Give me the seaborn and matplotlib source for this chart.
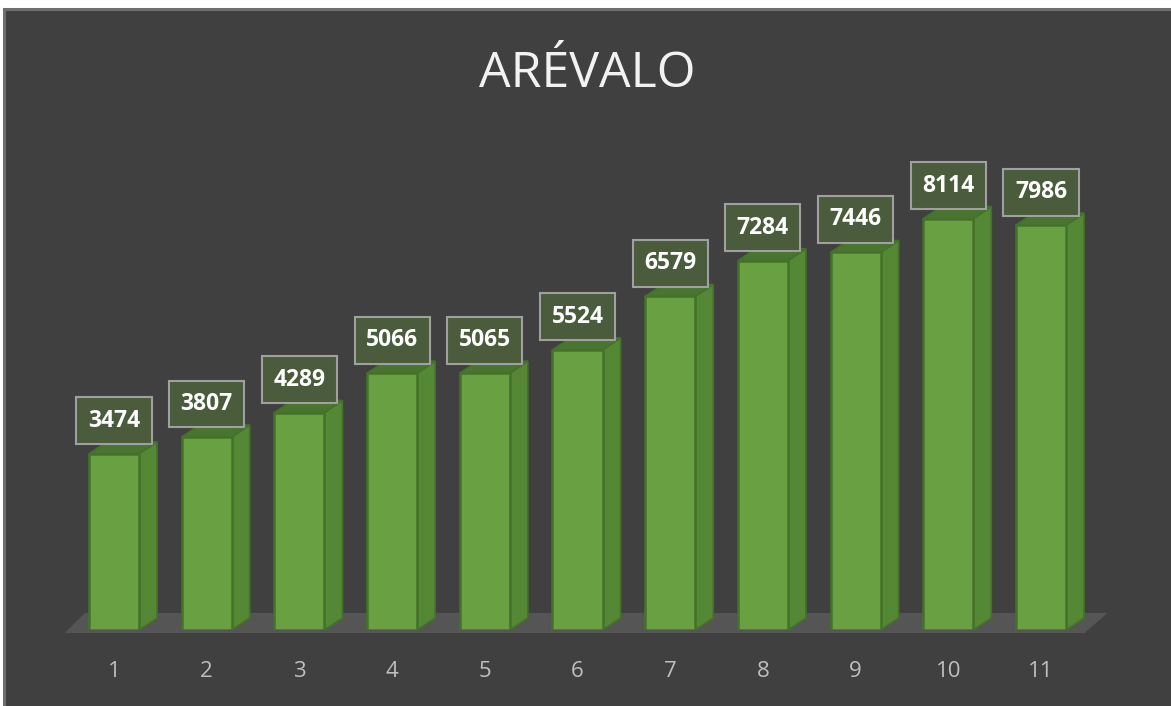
import matplotlib
matplotlib.use("Agg")
import matplotlib.pyplot as plt
from matplotlib.patches import Rectangle, Polygon
import seaborn as sns

# Datos del gráfico
periodos = ["1", "2", "3", "4", "5", "6", "7", "8", "9", "10", "11"]
valores = [3474, 3807, 4289, 5066, 5065, 5524, 6579, 7284, 7446, 8114, 7986]
titulo = "ARÉVALO"

# Colores
FONDO = "#404040"
BORDE = "#6e6e6e"
SUELO = "#555555"
VERDE = "#69a042"
VERDE_LADO = "#548834"
VERDE_TECHO = "#4a7530"
VERDE_BORDE = "#44722a"

sns.set_style("dark")
plt.rcParams["font.family"] = ["Open Sans", "DejaVu Sans"]

W, H = 1171, 706
fig = plt.figure(figsize=(W / 100, H / 100), dpi=100, facecolor="white")

# Panel oscuro con borde gris
fig.patches.append(Rectangle((4 / W, -0.05), 1.1, (H - 9) / H + 0.05,
                             transform=fig.transFigure, facecolor=FONDO,
                             edgecolor=BORDE, linewidth=2.2, zorder=-10))

# Ejes colocados a mano: suelo en y=630 px, barras separadas ~92.7 px
paso = 92.7
x0_px = 114
base_px = 630
escala = 0.0507  # px por unidad
ax = fig.add_axes([0, (H - base_px) / H, 1, (base_px - 100) / H])
ax.set_facecolor("none")

sns.barplot(x=periodos, y=valores, color=VERDE, width=0.54, saturation=1,
            edgecolor=VERDE_BORDE, linewidth=1.8, ax=ax, zorder=3)
barras = list(ax.patches)

ax.set_xlim(-x0_px / paso, (W - x0_px) / paso)
ax.set_ylim(0, (base_px - 100) / escala)

# Conversión de píxeles a unidades de datos
dxu = 1 / paso
dyu = 1 / escala
n = len(valores)

# Suelo (paralelogramo)
ax.add_patch(Polygon([(-0.53, -3 * dyu), (n - 1 + 0.47, -3 * dyu),
                      (n - 1 + 0.47 + 23 * dxu, 17 * dyu), (-0.53 + 20 * dxu, 17 * dyu)],
                     closed=True, facecolor=SUELO, edgecolor="none", clip_on=False, zorder=1))

# Caras laterales y superiores para el efecto 3D
prof_x = 18 * dxu
prof_y = 12 * dyu
for barra in barras:
    xa = barra.get_x()
    xb = xa + barra.get_width()
    h = barra.get_height()
    ax.add_patch(Polygon([(xb, 0), (xb + prof_x, prof_y), (xb + prof_x, h + prof_y), (xb, h)],
                         closed=True, facecolor=VERDE_LADO, edgecolor=VERDE_BORDE,
                         linewidth=1.2, zorder=2.5))
    ax.add_patch(Polygon([(xa, h), (xb, h), (xb + prof_x, h + prof_y), (xa + prof_x, h + prof_y)],
                         closed=True, facecolor=VERDE_TECHO, edgecolor=VERDE_BORDE,
                         linewidth=1.2, zorder=2.5))

# Etiquetas de datos
for i, v in enumerate(valores):
    ax.annotate(str(v), xy=(i, v), xytext=(0, 33 * 0.72), textcoords="offset points",
                ha="center", va="center", fontsize=16.5, fontweight="bold", color="white",
                bbox=dict(boxstyle="square,pad=0.5", facecolor="#4a5c3c",
                          edgecolor="#a0a0a0", linewidth=1.5),
                zorder=6)

ax.set_xlabel("")
ax.set_ylabel("")
ax.set_yticks([])
ax.tick_params(axis="x", length=0, pad=22, labelsize=16, labelcolor="#bfbfbf")
for s in ax.spines.values():
    s.set_visible(False)
ax.grid(False)

fig.text(587 / W, 1 - 74 / H, titulo, ha="center", va="center",
         fontsize=36, color="#f2f2f2")

fig.savefig("out.png", dpi=100, facecolor="white")
